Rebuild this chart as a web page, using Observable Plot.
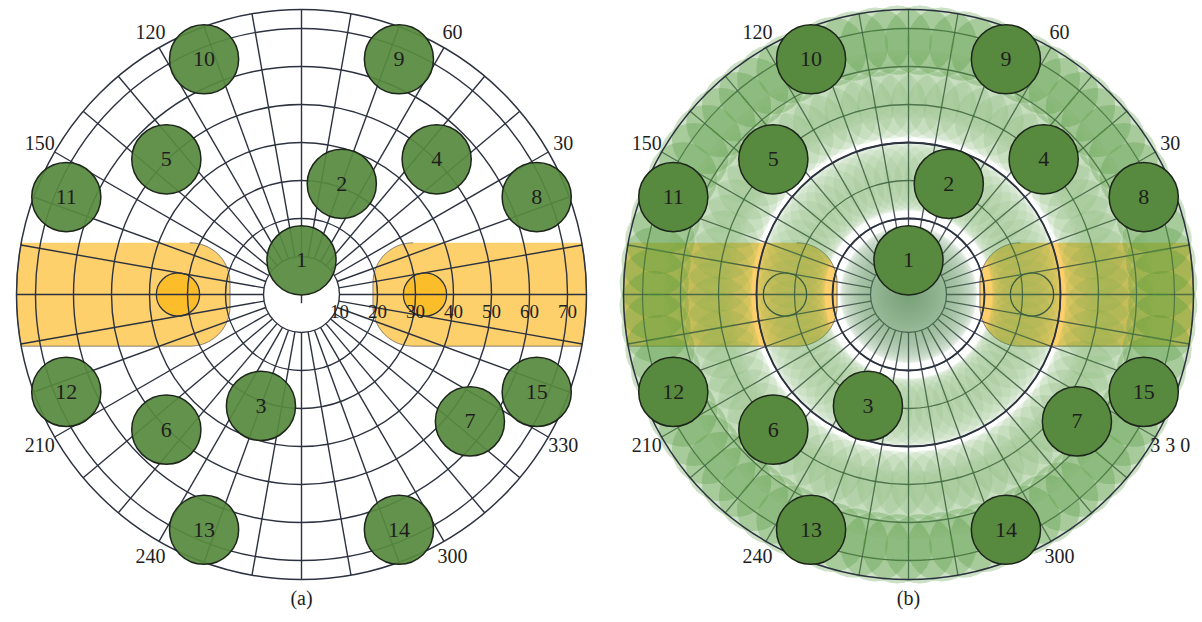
<!DOCTYPE html>
<html>
<head>
<meta charset="utf-8">
<script src="https://cdn.jsdelivr.net/npm/d3@7"></script>
<script src="https://cdn.jsdelivr.net/npm/@observablehq/plot@0.6"></script>
<style>
  body { margin: 0; background: #fff; }
  #fig { display: flex; width: 1202px; height: 622px; }
</style>
</head>
<body>
<div id="fig"></div>
<script>
// Stimulus layout: number, eccentricity (deg) and polar angle (deg)
const stimulusIds   = [1, 2, 3, 4, 5, 6, 7, 8, 9, 10, 11, 12, 13, 14, 15];
const stimulusEcc   = [9, 31, 31.2, 50.3, 50.3, 50.3, 55.5, 67, 67, 67, 67, 67, 67, 67, 67];
const stimulusAngle = [90, 70, 250, 45, 135, 225, 323, 22.5, 67.5, 112.5, 157.5, 202.5, 247.5, 292.5, 337.5];
const stimulusSize  = 9.1;   // stimulus radius, deg

// Polar grid
const ringEcc       = [10, 20, 30, 40, 50, 60, 70];
const fieldEcc      = 75;
const meridianStart = 10;
const meridianAngles = d3.range(0, 360, 10);
const angleLabels   = [30, 60, 120, 150, 210, 240, 300, 330];
const eccLabels     = [10, 20, 30, 40, 50, 60, 70];

// Blind-spot band along the horizontal meridian and blind spots
const bandHalfHeight = 13.6;
const bandInner      = 18.8;
const bandCorner     = 10.5;
const blindSpotEcc   = [32.5, 32.5];
const blindSpotAngle = [0, 180];
const blindSpotSize  = 5.7;

// Rotation sweep used for the coverage panel
const sweepAngles = d3.range(0, 360, 5);

const PX_PER_DEG = 3.8;
const H = 622, CY = 294;
const GRID = "#2c3240";
const GREEN = "#578a3e";
const SWEEP = "#5f9a4c";
const GREEN_EDGE = "#1d261b";
const BAND = "#fdd06b";
const SPOT = "#fbbd2a";
const INK = "#1e1e1e";

const rad = a => a * Math.PI / 180;
const px = (e, a) => e * Math.cos(rad(a));
const py = (e, a) => e * Math.sin(rad(a));

const stimuli = stimulusIds.map((id, i) => ({id, ecc: stimulusEcc[i], angle: stimulusAngle[i]}));
const spots = blindSpotEcc.map((e, i) => ({ecc: e, angle: blindSpotAngle[i]}));

// Outline of one half of the band (side = +1 right, -1 left)
function bandOutline(side) {
  const pts = [];
  const h = bandHalfHeight, c = bandCorner, x0 = bandInner;
  for (let t = 90; t <= 180; t += 5) pts.push([x0 + c + c * Math.cos(rad(t)), h - c + c * Math.sin(rad(t))]);
  for (let t = 180; t <= 270; t += 5) pts.push([x0 + c + c * Math.cos(rad(t)), -h + c + c * Math.sin(rad(t))]);
  const a = Math.asin(h / fieldEcc) * 180 / Math.PI;
  for (let t = -a; t <= a + 1e-9; t += a / 20) pts.push([fieldEcc * Math.cos(rad(t)), fieldEcc * Math.sin(rad(t))]);
  return pts.map(([x, y]) => ({side, x: side * x, y}));
}
const band = [...bandOutline(1), ...bandOutline(-1)];

const angleLabelData = angleLabels.map(a => ({a, anchor: Math.cos(rad(a)) > 0 ? "start" : "end"}));

function gridMarks(stroke, width, opacity) {
  return [
    Plot.dot(ringEcc, {x: () => 0, y: () => 0, r: d => d, fill: "none", stroke, strokeWidth: width, strokeOpacity: opacity}),
    Plot.link(meridianAngles, {
      x1: a => px(meridianStart, a), y1: a => py(meridianStart, a),
      x2: a => px(fieldEcc, a), y2: a => py(fieldEcc, a),
      stroke, strokeWidth: width, strokeOpacity: opacity
    })
  ];
}

function panel({width, cx, caption, coverage, showEcc, spaced330}) {
  const xDomain = [-cx / PX_PER_DEG, (width - cx) / PX_PER_DEG];
  const yDomain = [-(H - CY) / PX_PER_DEG, CY / PX_PER_DEG];
  const marks = [
    Plot.line(band, {x: "x", y: "y", z: "side", fill: BAND, stroke: GRID, strokeWidth: 0.8, strokeOpacity: 0.7}),
    Plot.dot(spots, {x: d => px(d.ecc, d.angle), y: d => py(d.ecc, d.angle), r: () => blindSpotSize,
      fill: coverage ? "none" : SPOT, stroke: GRID, strokeWidth: 1.3})
  ];
  if (!coverage) {
    marks.push(...gridMarks(GRID, 1.4, 1));
    marks.push(Plot.link([0], {x1: () => 0, y1: () => 0, x2: () => 0, y2: () => -2.3, stroke: GRID, strokeWidth: 1.4}));
  } else {
    marks.push(...gridMarks(GRID, 1.3, 0.85));
    // every stimulus swept around fixation, drawn as faint overlapping discs
    const copies = stimuli.flatMap(s => sweepAngles.map(r => ({id: s.id, ecc: s.ecc, angle: s.angle + r})));
    marks.push(Plot.dot(copies, {x: d => px(d.ecc, d.angle), y: d => py(d.ecc, d.angle), r: () => stimulusSize,
      fill: SWEEP, fillOpacity: d => d.id === 1 ? 0.035 : 0.042, stroke: "none"}));
    marks.push(Plot.dot([20, 40], {x: () => 0, y: () => 0, r: d => d, fill: "none", stroke: GRID, strokeWidth: 1.8}));
  }
  marks.push(
    Plot.dot([fieldEcc], {x: () => 0, y: () => 0, r: d => d, fill: "none", stroke: GRID, strokeWidth: 1.5}),
    Plot.dot(stimuli, {x: d => px(d.ecc, d.angle), y: d => py(d.ecc, d.angle), r: () => stimulusSize,
      fill: GREEN, fillOpacity: coverage ? 1 : 0.93, stroke: GREEN_EDGE, strokeWidth: 1.5}),
    Plot.text(stimuli, {x: d => px(d.ecc, d.angle), y: d => py(d.ecc, d.angle), text: "id",
      fontSize: 22, fill: INK}),
    Plot.text(angleLabelData, {x: d => px(79.5, d.a), y: d => py(79.5, d.a),
      text: d => (spaced330 && d.a === 330) ? "3 3 0" : String(d.a),
      textAnchor: d => d.anchor, fontSize: 20, fill: INK}),
    Plot.text([caption], {x: () => 0, frameAnchor: "bottom", dy: -18, fontSize: 20, fill: INK})
  );
  if (showEcc) {
    marks.push(Plot.text(eccLabels, {x: d => d, y: () => 0, dy: 17, text: d => String(d), fontSize: 19, fill: INK}));
  }
  return Plot.plot({
    width, height: H, margin: 0,
    x: {domain: xDomain, range: [0, width], axis: null},
    y: {domain: yDomain, range: [H, 0], axis: null},
    r: {type: "linear", domain: [0, 1], range: [0, PX_PER_DEG]},
    style: {fontFamily: "'Liberation Serif', 'Times New Roman', serif", background: "white", overflow: "visible"},
    marks
  });
}

const fig = document.getElementById("fig");
fig.append(panel({width: 604, cx: 301, caption: "(a)", coverage: false, showEcc: true}));
fig.append(panel({width: 598, cx: 304, caption: "(b)", coverage: true, showEcc: false, spaced330: true}));
</script>
</body>
</html>
